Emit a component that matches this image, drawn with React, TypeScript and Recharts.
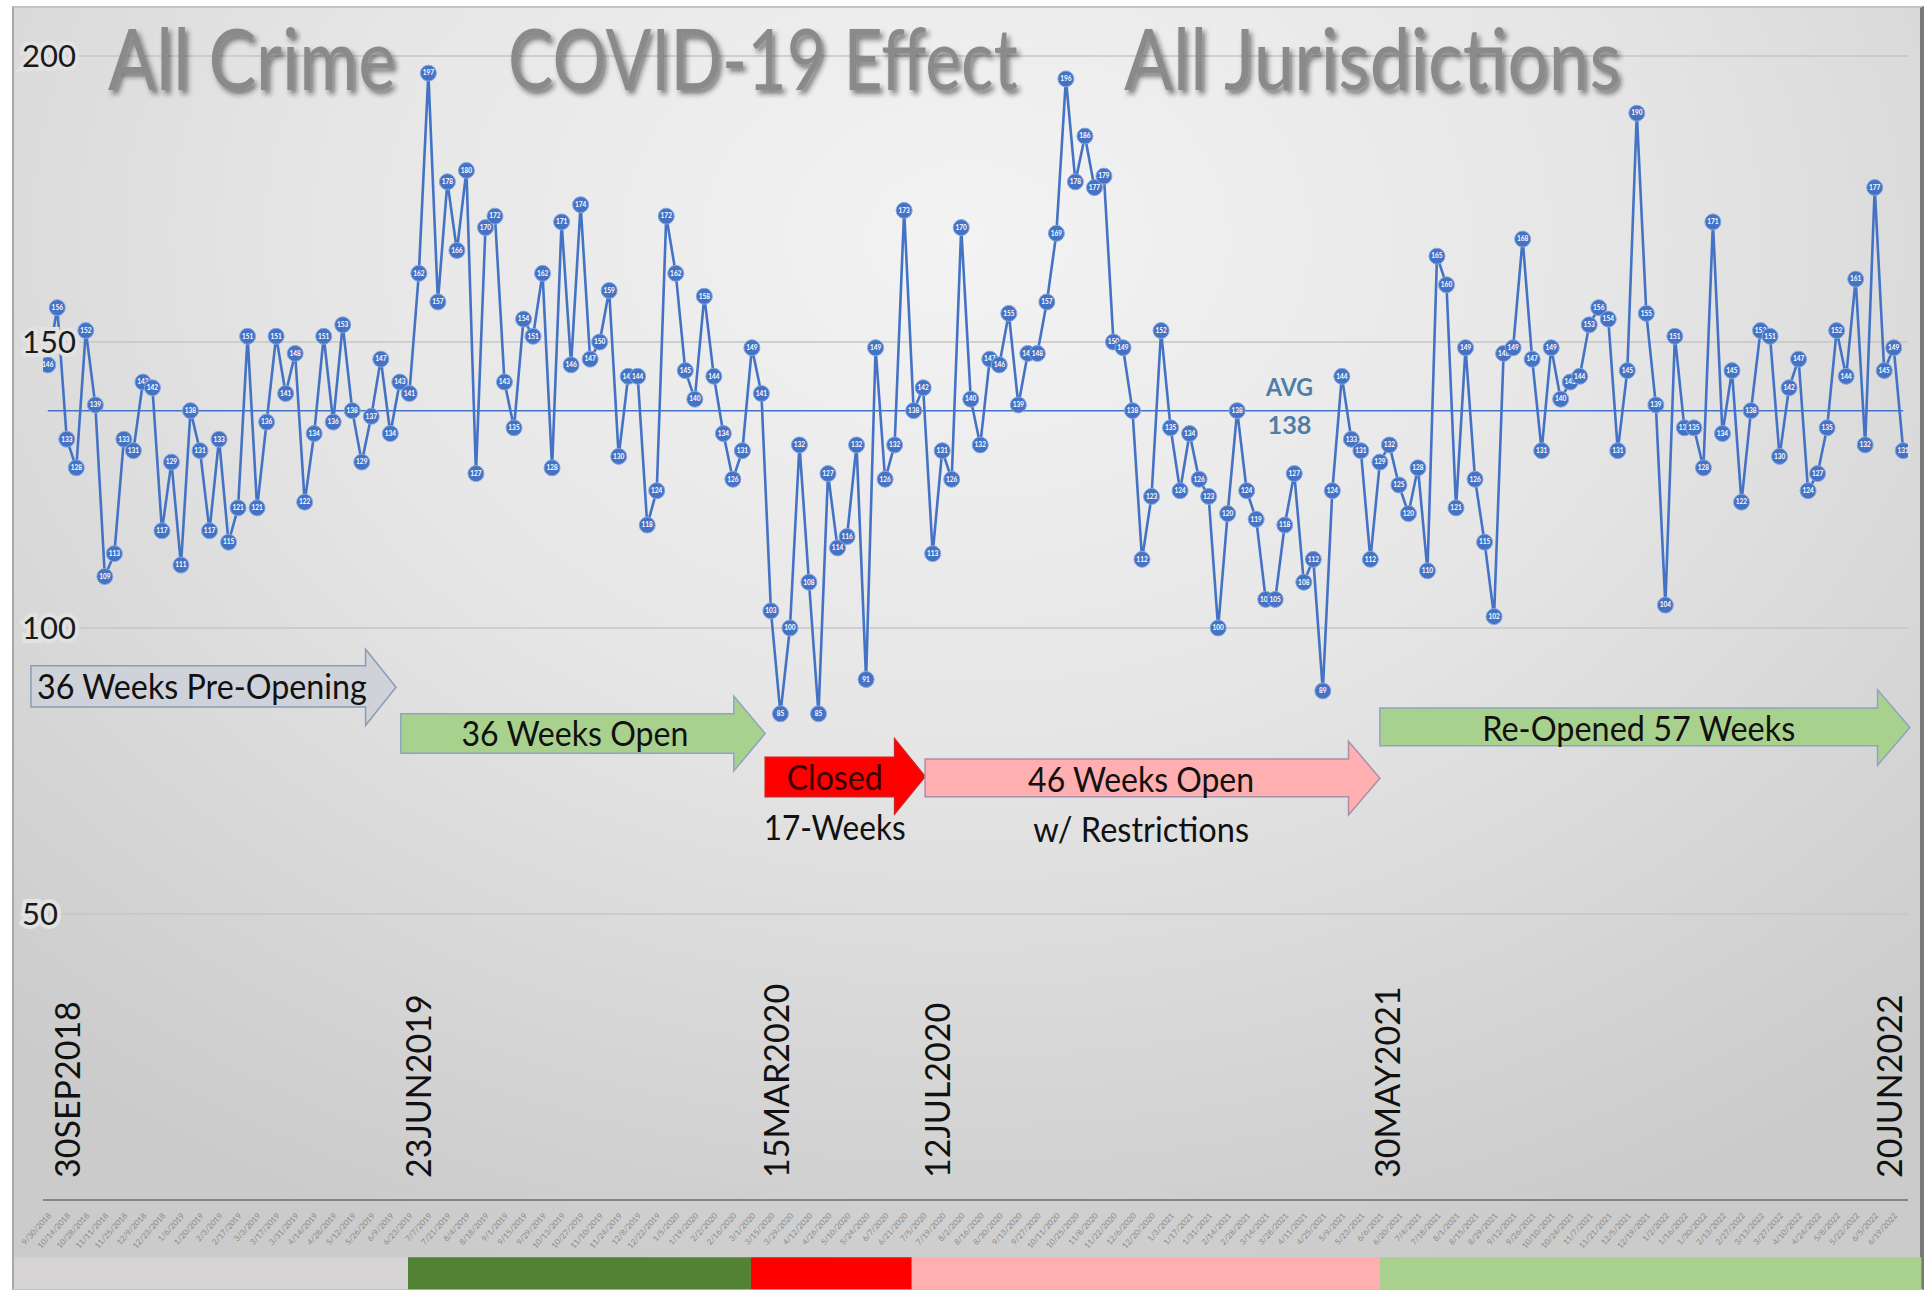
import React from 'react';
import {
  LineChart,
  Line,
  XAxis,
  YAxis,
  CartesianGrid,
  ReferenceLine,
  ReferenceArea,
  ReferenceDot,
} from 'recharts';

// ---------------- DATA ----------------
const crimeCounts: number[] = [
  146, 156, 133, 128, 152, 139, 109, 113, 133, 131, 143, 142, 117, 129, 111, 138, 131, 117, 133, 115,
  121, 151, 121, 136, 151, 141, 148, 122, 134, 151, 136, 153, 138, 129, 137, 147, 134, 143, 141, 162,
  197, 157, 178, 166, 180, 127, 170, 172, 143, 135, 154, 151, 162, 128, 171, 146, 174, 147, 150, 159,
  130, 144, 144, 118, 124, 172, 162, 145, 140, 158, 144, 134, 126, 131, 149, 141, 103, 85, 100, 132,
  108, 85, 127, 114, 116, 132, 91, 149, 126, 132, 173, 138, 142, 113, 131, 126, 170, 140, 132, 147,
  146, 155, 139, 148, 148, 157, 169, 196, 178, 186, 177, 179, 150, 149, 138, 112, 123, 152, 135, 124,
  134, 126, 123, 100, 120, 138, 124, 119, 105, 105, 118, 127, 108, 112, 89, 124, 144, 133, 131, 112,
  129, 132, 125, 120, 128, 110, 165, 160, 121, 149, 126, 115, 102, 148, 149, 168, 147, 131, 149, 140,
  143, 144, 153, 156, 154, 131, 145, 190, 155, 139, 104, 151, 135, 135, 128, 171, 134, 145, 122, 138,
  152, 151, 130, 142, 147, 124, 127, 135, 152, 144, 161, 132, 177, 145, 149, 131,
];

const AVG = 138;
const yTicks = [50, 100, 150, 200];

// weekly categories starting 30 Sep 2018
const weekDates: string[] = crimeCounts.map((_, i) => {
  const d = new Date(Date.UTC(2018, 8, 30 + 7 * i));
  return `${d.getUTCMonth() + 1}/${d.getUTCDate()}/${d.getUTCFullYear()}`;
});
const xTicks: number[] = crimeCounts.map((_, i) => i).filter((i) => i % 2 === 0);

const data = crimeCounts.map((count, idx) => ({ idx, date: weekDates[idx], count }));

const titleWords = ['All Crime', 'COVID-19 Effect', 'All Jurisdictions'];

// key dates shown as big vertical labels (position in week index)
const keyDateLabels = [
  { text: '30SEP2018', at: 2.1 },
  { text: '23JUN2019', at: 39.0 },
  { text: '15MAR2020', at: 76.6 },
  { text: '12JUL2020', at: 93.5 },
  { text: '30MAY2021', at: 140.8 },
  { text: '20JUN2022', at: 193.6 },
];

// phase arrows (x in week index units, y in count units)
type Phase = {
  start: number; headBase: number; tip: number;
  bodyTop: number; bodyBottom: number; headTop: number; headBottom: number;
  fill: string; stroke: string;
};
const phaseArrows: Phase[] = [
  { start: -1.77, headBase: 33.4, tip: 36.6, bodyTop: 93.4, bodyBottom: 86.2, headTop: 96.3, headBottom: 83.0, fill: '#cfd2d9', stroke: '#8a9cb8' },
  { start: 37.1, headBase: 72.1, tip: 75.4, bodyTop: 85.0, bodyBottom: 78.1, headTop: 88.1, headBottom: 75.0, fill: '#a9d18e', stroke: '#8aa6c4' },
  { start: 75.4, headBase: 89.0, tip: 92.2, bodyTop: 77.4, bodyBottom: 70.5, headTop: 80.6, headBottom: 67.5, fill: '#ff0000', stroke: '#d02020' },
  { start: 92.2, headBase: 136.7, tip: 140.0, bodyTop: 77.1, bodyBottom: 70.5, headTop: 80.2, headBottom: 67.3, fill: '#ffafaf', stroke: '#a890a8' },
  { start: 140.0, headBase: 192.3, tip: 195.7, bodyTop: 86.0, bodyBottom: 79.4, headTop: 89.2, headBottom: 76.0, fill: '#a9d18e', stroke: '#8aa6c4' },
];

const phaseTexts = [
  { text: '36 Weeks Pre-Opening', x: 16.2, y: 87.6, len: 330, color: '#111' },
  { text: '36 Weeks Open', x: 55.4, y: 79.4, len: 227, color: '#111' },
  { text: 'Closed', x: 82.7, y: 71.7, len: 96, color: '#3a0000' },
  { text: '17-Weeks', x: 82.7, y: 62.9, len: 142, color: '#111' },
  { text: '46 Weeks Open', x: 114.9, y: 71.3, len: 226, color: '#111' },
  { text: 'w/ Restrictions', x: 114.9, y: 62.6, len: 216, color: '#111' },
  { text: 'Re-Opened 57 Weeks', x: 167.2, y: 80.2, len: 313, color: '#111' },
];

// bottom phase colour strip (week index ranges)
const phaseStrip = [
  { from: -3.55, to: 37.86, fill: '#d6d4d4' },
  { from: 37.86, to: 73.9, fill: '#548235' },
  { from: 73.9, to: 90.8, fill: '#ff0000' },
  { from: 90.8, to: 140.0, fill: '#ffafaf' },
  { from: 140.0, to: 196.9, fill: '#a9d18e' },
];

const FONT = 'Lato, "Open Sans", sans-serif';

// text squeezed horizontally to a given width (Calibri-like narrow look)
const FitText = (props: any) => {
  const { x, y, width, anchor = 'middle', children, ...rest } = props;
  const ref = React.useRef<SVGTextElement>(null);
  const [s, setS] = React.useState(1);
  React.useLayoutEffect(() => {
    if (ref.current) {
      const w = ref.current.getComputedTextLength();
      if (w > 0) setS(width / w);
    }
  }, [width, children]);
  return (
    <text
      ref={ref}
      transform={`translate(${x},${y}) scale(${s},1)`}
      x={0}
      y={0}
      textAnchor={anchor}
      {...rest}
    >
      {children}
    </text>
  );
};

const makeArrowShape = (p: Phase) => (props: any) => {
  const { x, y, width, height } = props;
  const span = p.tip - p.start;
  const xb = x + ((p.headBase - p.start) / span) * width;
  const vspan = p.headTop - p.headBottom;
  const bt = y + ((p.headTop - p.bodyTop) / vspan) * height;
  const bb = y + ((p.headTop - p.bodyBottom) / vspan) * height;
  const pts = [
    [x, bt], [xb, bt], [xb, y], [x + width, y + height / 2], [xb, y + height], [xb, bb], [x, bb],
  ];
  return (
    <polygon
      points={pts.map((q) => q.join(',')).join(' ')}
      fill={p.fill}
      stroke={p.stroke}
      strokeWidth={1.5}
    />
  );
};

const renderDot = (props: any) => {
  const { cx, cy, index, value } = props;
  if (cx == null || cy == null) return <g key={`d${index}`} />;
  return (
    <g key={`d${index}`}>
      <circle cx={cx} cy={cy} r={8} fill="#4472c4" stroke="#86a6de" strokeWidth={1} />
      <text
        x={cx}
        y={cy}
        dy="0.35em"
        textAnchor="middle"
        fontSize={6.5}
        fontWeight={700}
        fill="#ffffff"
        fontFamily={FONT}
      >
        {value}
      </text>
    </g>
  );
};

const XTick = (props: any) => {
  const { x, y, payload } = props;
  const label = weekDates[payload.value] ?? '';
  return (
    <text
      x={x + 4}
      y={y + 8}
      transform={`rotate(-48, ${x + 4}, ${y + 8})`}
      textAnchor="end"
      fontSize={8}
      fill="#8a8a8a"
      fontFamily={FONT}
    >
      {label}
    </text>
  );
};

const YTick = (props: any) => {
  const { y, payload } = props;
  return (
    <text
      x={22}
      y={y}
      dy="0.36em"
      textAnchor="start"
      fontSize={31}
      fill="#1a1a1a"
      fontFamily={FONT}
      stroke="#e2e2e2"
      strokeWidth={8}
      paintOrder="stroke"
    >
      {payload.value}
    </text>
  );
};

export default function App() {
  return (
    <div style={{ position: 'absolute', left: 0, top: 0, width: 1928, height: 1294, background: '#ffffff', overflow: 'hidden' }}>
      <div
        style={{
          position: 'absolute',
          left: 12,
          top: 6,
          width: 1906,
          height: 1280,
          borderLeft: '2px solid #a8a8a8',
          borderTop: '2px solid #c4c4c4',
          borderRight: '4px solid #7a7a7a',
          borderBottom: '2px solid #bdbdbd',
          background:
            'radial-gradient(ellipse 75% 85% at 50% 18%, #f3f3f3 0%, #e6e6e6 45%, #d2d2d2 85%, #cbcbcb 100%)',
        }}
      />
      <div style={{ position: 'absolute', left: 0, top: 0 }}>
        <LineChart width={1928} height={1294} data={data} margin={{ top: 56, right: 20, bottom: 0, left: 0 }}>
          <CartesianGrid horizontal vertical={false} stroke="#c6c6c6" strokeWidth={1.5} />
          <XAxis
            type="number"
            dataKey="idx"
            domain={[-0.5, 195.5]}
            ticks={xTicks}
            interval={0}
            allowDataOverflow
            height={94}
            tickLine={false}
            axisLine={{ stroke: '#858585', strokeWidth: 2 }}
            tick={<XTick />}
          />
          <YAxis
            type="number"
            domain={[0, 200]}
            ticks={yTicks}
            allowDataOverflow
            width={43}
            axisLine={false}
            tickLine={false}
            tick={<YTick />}
          />

          {phaseStrip.map((s, i) => (
            <ReferenceArea
              key={`strip${i}`}
              x1={s.from}
              x2={s.to}
              y1={-15.6}
              y2={-10.0}
              fill={s.fill}
              fillOpacity={1}
              stroke="none"
              ifOverflow="visible"
            />
          ))}

          {phaseArrows.map((p, i) => (
            <ReferenceArea
              key={`arrow${i}`}
              x1={p.start}
              x2={p.tip}
              y1={p.headBottom}
              y2={p.headTop}
              ifOverflow="visible"
              shape={makeArrowShape(p)}
            />
          ))}

          {phaseTexts.map((t, i) => (
            <ReferenceDot
              key={`ptxt${i}`}
              x={t.x}
              y={t.y}
              r={0}
              ifOverflow="visible"
              shape={(props: any) => (
                <FitText
                  x={props.cx}
                  y={props.cy}
                  width={t.len}
                  anchor="middle"
                  fontSize={34}
                  fill={t.color}
                  fontFamily={FONT}
                >
                  {t.text}
                </FitText>
              )}
            />
          ))}

          {keyDateLabels.map((k, i) => (
            <ReferenceDot
              key={`kd${i}`}
              x={k.at}
              y={3.85}
              r={0}
              ifOverflow="visible"
              shape={(props: any) => (
                <text
                  x={props.cx}
                  y={props.cy}
                  dy="0.36em"
                  transform={`rotate(-90, ${props.cx}, ${props.cy})`}
                  textAnchor="start"
                  fontSize={34}
                  fill="#111"
                  fontFamily={FONT}
                >
                  {k.text}
                </text>
              )}
            />
          ))}

          <ReferenceLine
            segment={[{ x: 0, y: AVG }, { x: 195, y: AVG }]}
            stroke="#4472c4"
            strokeWidth={1.5}
            ifOverflow="visible"
          />
          <ReferenceDot
            x={130.5}
            y={142.1}
            r={0}
            ifOverflow="visible"
            shape={(props: any) => (
              <FitText x={props.cx} y={props.cy} width={47} anchor="middle" dy="0.36em" fontSize={25} fontWeight={700}
                fill="#4d7ea8" fontFamily={FONT}>
                AVG
              </FitText>
            )}
          />
          <ReferenceDot
            x={130.5}
            y={135.5}
            r={0}
            ifOverflow="visible"
            shape={(props: any) => (
              <FitText x={props.cx} y={props.cy} width={44} anchor="middle" dy="0.36em" fontSize={25} fontWeight={700}
                fill="#4d7ea8" fontFamily={FONT}>
                {String(AVG)}
              </FitText>
            )}
          />

          <Line
            type="linear"
            dataKey="count"
            stroke="#4472c4"
            strokeWidth={2.6}
            dot={renderDot}
            activeDot={false}
            isAnimationActive={false}
          />
        </LineChart>
      </div>
      <svg width={1928} height={130} style={{ position: 'absolute', left: 0, top: 0, pointerEvents: 'none' }}>
        <defs>
          <filter id="tshadow" x="-5%" y="-20%" width="110%" height="150%">
            <feDropShadow dx="3" dy="4" stdDeviation="2.5" floodColor="#222" floodOpacity="0.55" />
          </filter>
        </defs>
        <g filter="url(#tshadow)" fontFamily={FONT} fontSize={86} fill="#8a8a8a">
          <FitText x={108} y={90} width={288} anchor="start">{titleWords[0]}</FitText>
          <FitText x={508} y={90} width={510} anchor="start">{titleWords[1]}</FitText>
          <FitText x={1124} y={90} width={497} anchor="start">{titleWords[2]}</FitText>
        </g>
      </svg>
    </div>
  );
}
